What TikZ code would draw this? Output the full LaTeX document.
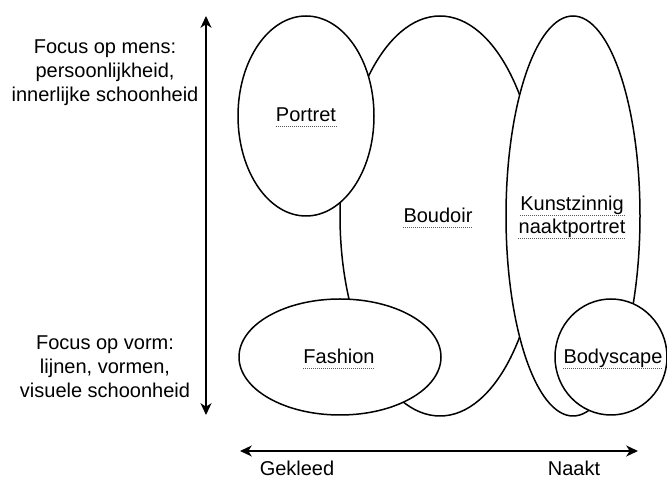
\documentclass[tikz,border=0pt]{standalone}
\usepackage{fontspec}
\setmainfont{Liberation Sans}
\usetikzlibrary{shapes.geometric,arrows.meta}
\begin{document}
\begin{tikzpicture}[x=0.6pt, y=-0.6pt, >={Stealth[length=7pt,width=6.5pt,inset=2pt]}]
\tikzstyle{every node}=[font=\fontsize{12}{14.4}\selectfont]
\tikzstyle{blob}=[ellipse,draw,line width=0.9pt,fill=white,inner sep=0pt]
\tikzstyle{lbl}=[inner sep=0pt,anchor=base]
\useasboundingbox (0,0) rectangle (667,481);
\node[blob,minimum width=120pt,minimum height=240pt](boudoir) at (440,216) {};
\node[blob,minimum width=80.4pt,minimum height=240pt](kunst) at (573,216) {};
\node[blob,minimum width=81.6pt,minimum height=120pt](portret) at (306,116) {};
\node[blob,minimum width=121.2pt,minimum height=69.6pt](fashion) at (340,357) {};
\node[blob,minimum width=67.2pt,minimum height=69.6pt](bodyscape) at (611,357) {};
\node[lbl](tportret) at (306,122) {Portret};
\node[lbl](tboudoir) at (438,223) {Boudoir};
\node[lbl](tkunst1) at (572,211) {Kunstzinnig};
\node[lbl](tkunst2) at (572,234) {naaktportret};
\node[lbl](tfashion) at (339,364) {Fashion};
\node[lbl](tbodyscape) at (613,364) {Bodyscape};
\foreach \t in {tportret,tboudoir,tkunst1,tkunst2,tfashion,tbodyscape}
  \draw[gray!70!black,line width=0.6pt,dash pattern=on 0.6pt off 0.6pt]
    ([yshift=-3pt]\t.base west) -- ([yshift=-3pt]\t.base east);
\node[align=center](mens) at (105,73) {Focus op mens:\\persoonlijkheid,\\innerlijke schoonheid};
\node[align=center](vorm) at (105,367) {Focus op vorm:\\lijnen, vormen,\\visuele schoonheid};
\node[lbl](gekleed) at (297,476) {Gekleed};
\node[lbl](naakt) at (574,476) {Naakt};
\coordinate (top) at (206,16);
\coordinate (bottom) at (206,415);
\coordinate (left) at (240,451);
\coordinate (right) at (638,451);
\draw[<->,line width=1.1pt] (top) -- (bottom);
\draw[<->,line width=1.1pt] (left) -- (right);
\end{tikzpicture}
\end{document}
